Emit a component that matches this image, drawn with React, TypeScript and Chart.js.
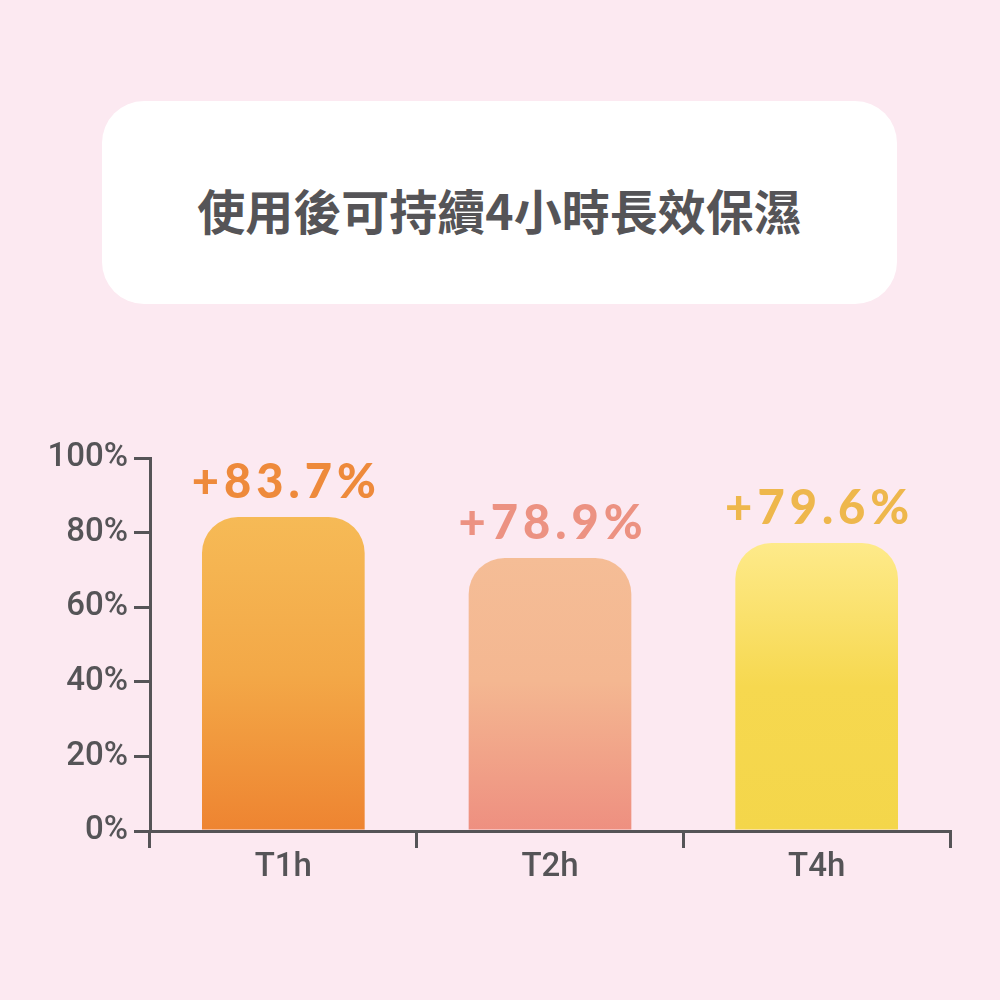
import { useEffect, useRef } from 'react';
import { Chart, registerables } from 'chart.js';

Chart.register(...registerables);

const categories = ['T1h', 'T2h', 'T4h'];
// bar heights as drawn in the picture (percent)
const barValues = [84.2, 73.2, 77.2];
// texts printed above the bars
const valueLabels = ['+83.7%', '+78.9%', '+79.6%'];
const yTickLabels = ['0%', '20%', '40%', '60%', '80%', '100%'];

const TITLE = '使用後可持續4小時長效保濕';

const AXIS = '#555457';
const LABEL_COLORS = ['#ee8a3b', '#ec9282', '#eeb74c'];
const GRADIENTS = [
  [[0, '#f6ba56'], [0.5, '#f3a847'], [1, '#ee8431']],
  [[0, '#f5bd96'], [0.45, '#f4b791'], [1, '#ee8f80']],
  [[0, '#feea8a'], [0.5, '#f6d84f'], [1, '#f4d64a']],
];
const AXIS_FONT = 'Roboto, "Liberation Sans Narrow", sans-serif';

const valueLabelPlugin = {
  id: 'valueLabels',
  afterDatasetsDraw(chart: any) {
    const ctx = chart.ctx;
    const meta = chart.getDatasetMeta(0);
    ctx.save();
    ctx.font = '900 47px Lato, "Open Sans", sans-serif';
    ctx.textAlign = 'center';
    ctx.textBaseline = 'alphabetic';
    (ctx as any).letterSpacing = '5px';
    meta.data.forEach((bar: any, i: number) => {
      ctx.fillStyle = LABEL_COLORS[i];
      ctx.fillText(valueLabels[i], bar.x + 3, bar.y - 19);
    });
    ctx.restore();
  },
};

export default function App() {
  const canvasRef = useRef<HTMLCanvasElement>(null);
  const chartRef = useRef<Chart | null>(null);

  useEffect(() => {
    if (!canvasRef.current) return;
    chartRef.current = new Chart(canvasRef.current, {
      type: 'bar',
      data: {
        labels: categories,
        datasets: [
          {
            data: barValues,
            backgroundColor: (c: any) => {
              const chart = c.chart;
              const { chartArea, scales } = chart;
              if (!chartArea || c.dataIndex === undefined) return '#f5b955';
              const top = scales.y.getPixelForValue(barValues[c.dataIndex]);
              const bottom = scales.y.getPixelForValue(0);
              const g = chart.ctx.createLinearGradient(0, top, 0, bottom);
              GRADIENTS[c.dataIndex].forEach(([p, col]: any) => g.addColorStop(p, col));
              return g;
            },
            borderWidth: 0,
            borderSkipped: 'bottom',
            borderRadius: { topLeft: 36, topRight: 36, bottomLeft: 0, bottomRight: 0 },
            categoryPercentage: 1,
            barPercentage: 0.61,
          },
        ],
      },
      options: {
        responsive: false,
        animation: false,
        layout: { padding: { top: 38, right: 50, left: 0, bottom: 0 } },
        plugins: {
          legend: { display: false },
          tooltip: { enabled: false },
        },
        scales: {
          x: {
            afterFit: (s: any) => {
              s.height = 69;
            },
            grid: {
              offset: true,
              drawOnChartArea: false,
              tickLength: 17,
              color: AXIS,
              lineWidth: 3,
            },
            border: { color: AXIS, width: 3 },
            ticks: {
              color: AXIS,
              padding: 0,
              font: { family: AXIS_FONT, size: 33, weight: '500' },
            },
          },
          y: {
            min: 0,
            max: 100,
            afterFit: (s: any) => {
              s.width = 150;
            },
            grid: {
              drawOnChartArea: false,
              tickLength: 16,
              color: AXIS,
              lineWidth: 3,
            },
            border: { color: AXIS, width: 3 },
            ticks: {
              stepSize: 20,
              color: AXIS,
              padding: 6,
              font: { family: AXIS_FONT, size: 33, weight: '500' },
              callback: (_v: any, i: number) => yTickLabels[i],
            },
          },
        },
      },
      plugins: [valueLabelPlugin],
    } as any);
    return () => {
      chartRef.current?.destroy();
    };
  }, []);

  return (
    <div
      style={{
        position: 'fixed',
        left: 0,
        top: 0,
        width: 1000,
        height: 1000,
        background: '#fce9f1',
        overflow: 'hidden',
      }}
    >
      <div
        style={{
          position: 'absolute',
          left: 102,
          top: 101,
          width: 795,
          height: 203,
          background: '#ffffff',
          borderRadius: 42,
          display: 'flex',
          alignItems: 'center',
          justifyContent: 'center',
        }}
      >
        <span
          style={{
            fontFamily: '"Noto Sans CJK TC", "Noto Sans CJK SC", sans-serif',
            fontWeight: 'bold',
            fontSize: 48,
            color: '#555457',
            marginTop: 12,
          }}
        >
          {TITLE}
        </span>
      </div>
      <canvas
        ref={canvasRef}
        width={1000}
        height={480}
        style={{ position: 'absolute', left: 0, top: 420, display: 'block' }}
      />
    </div>
  );
}
